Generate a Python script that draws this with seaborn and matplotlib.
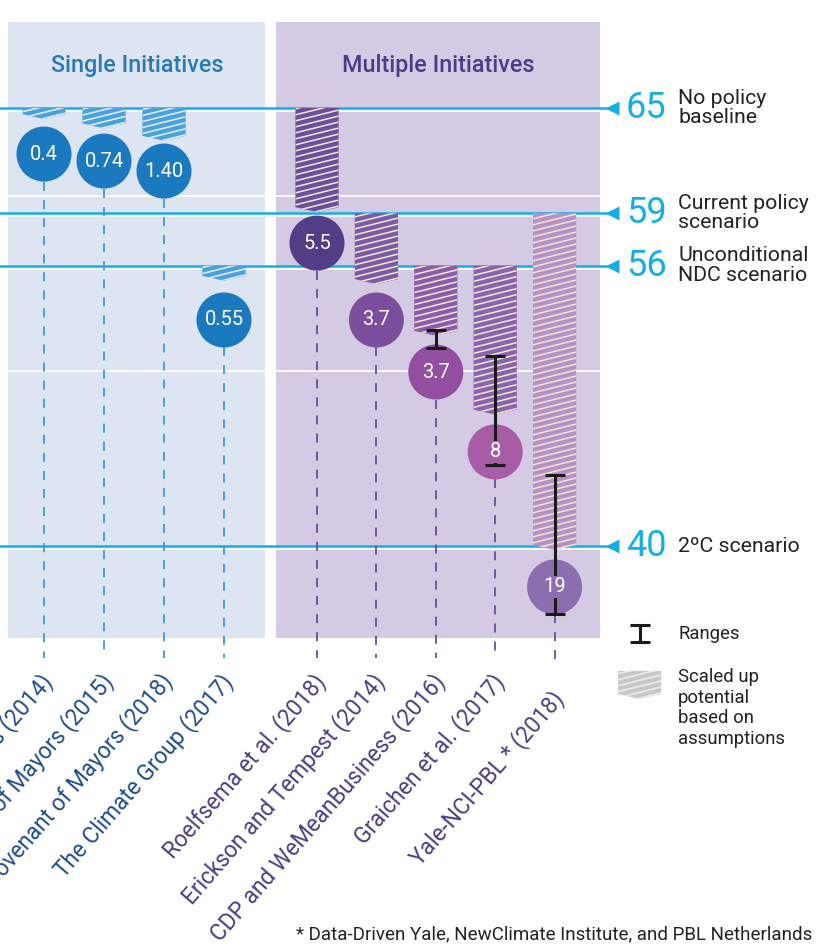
import numpy as np
import pandas as pd
import matplotlib
matplotlib.use("Agg")
import matplotlib.pyplot as plt
import matplotlib.patheffects as pe
import seaborn as sns

# ---------------- data ----------------
studies = ["Covenant of Mayors (2014)", "Compact of Mayors (2015)",
           "Global Covenant of Mayors (2018)", "The Climate Group (2017)",
           "Roelfsema et al. (2018)", "Erickson and Tempest (2014)",
           "CDP and WeMeanBusiness (2016)", "Graichen et al. (2017)",
           "Yale-NCI-PBL * (2018)"]
groups = ["Single"] * 4 + ["Multiple"] * 5
bar_top = [65, 65, 65, 56, 65, 59, 56, 56, 59]
bar_bottom = [64.37, 63.84, 63.13, 55.14, 59.06, 54.95, 52.0, 47.5, 39.77]
circle_y = [62.37, 61.97, 61.40, 52.90, 57.29, 52.90, 49.93, 45.37, 37.66]
circle_labels = ["0.4", "0.74", "1.40", "0.55", "5.5", "3.7", "3.7", "8", "19"]
range_low = [np.nan, np.nan, np.nan, np.nan, np.nan, np.nan, 51.30, 44.62, 36.12]
range_high = [np.nan, np.nan, np.nan, np.nan, np.nan, np.nan, 52.33, 50.84, 44.05]
ref_values = [65, 59, 56, 40]
ref_labels = ["No policy\nbaseline", "Current policy\nscenario",
              "Unconditional\nNDC scenario", "2ºC scenario"]
grid_values = [50, 60]
panel_titles = ["Single Initiatives", "Multiple Initiatives"]
footnote = "* Data-Driven Yale, NewClimate Institute, and PBL Netherlands"
legend_labels = ["Ranges", "Scaled up\npotential\nbased on\nassumptions"]

# ---------------- style ----------------
sns.set_theme(style="white")
plt.rcParams["font.family"] = ["Roboto", "DejaVu Sans"]

circle_colors = ["#1b79bf", "#1b79bf", "#1b79bf", "#1b79bf",
                 "#533d86", "#7b4f9e", "#934f9f", "#a85ca6", "#8c6db0"]
bar_colors = ["#4aa2dc", "#4aa2dc", "#4aa2dc", "#4aa2dc",
              "#6c4e9e", "#7d5aa6", "#8a5ca9", "#8b62ad", "#b890c8"]
stripe_colors = ["#e8f0f8"] * 4 + ["#f0ead0"] * 5
dash_colors = ["#3e9ad6"] * 4 + ["#6b4c9e"] * 5
label_colors = ["#1f4d8c"] * 4 + ["#4b3d85"] * 5
cyan = "#14aee6"

# layout (pixel-derived scale: 60 px per category, 17.52 px per Gt)
W, H = 824, 947
PX_X, PX_Y = 60.0, 17.52
x0_px, y65_px = 44.0, 108.0
xmin = -x0_px / PX_X
xmax = (W - x0_px) / PX_X
ymax = 65 + y65_px / PX_Y
ymin = 65 - (H - y65_px) / PX_Y

xpos = np.array([0, 1, 2, 3] + [4.55 + 0.99 * j for j in range(5)])

fig = plt.figure(figsize=(W / 100, H / 100), dpi=100)
ax = fig.add_axes([0, 0, 1, 1])
ax.set_xlim(xmin, xmax)
ax.set_ylim(ymin, ymax)
ax.axis("off")

# panels
panel_bottom, panel_top = 34.75, 69.9
ax.fill_between([-0.6, 3.683], panel_bottom, panel_top, color="#dee5f2", lw=0, zorder=0)
ax.fill_between([3.867, 9.267], panel_bottom, panel_top, color="#d5cae3", lw=0, zorder=0)
for g in grid_values:
    ax.plot([-0.6, 3.683], [g, g], color="white", lw=1.3, zorder=1)
    ax.plot([3.867, 9.267], [g, g], color="white", lw=1.3, zorder=1)

ax.text(1.55, 67.42, panel_titles[0], ha="center", va="center", fontsize=16.8,
        color="#2a78b8", fontweight="medium")
ax.text(6.567, 67.42, panel_titles[1], ha="center", va="center", fontsize=16.8,
        color="#4a3c86", fontweight="medium")

# reference lines
tri_x = 9.467
for v, lab in zip(ref_values, ref_labels):
    ax.plot([xmin, tri_x], [v, v], color=cyan, lw=1.8, zorder=2,
            path_effects=[pe.SimpleLineShadow(offset=(0, -1.6), shadow_color="white",
                                              alpha=1.0, rho=1), pe.Normal()])
    ax.plot([tri_x], [v], marker="<", ms=10, color=cyan, mec="none", zorder=2)
    ax.text(9.70, v, str(v), ha="left", va="center", fontsize=26, color=cyan)
    ax.text(10.567, v, lab, ha="left", va="center", fontsize=15.3,
            color="#222222", linespacing=1.05)

# hatched bars with chevron bottom
hw, chev = 0.36, 0.28
slope = 0.25 * PX_X / PX_Y
spacing = 6.0 / PX_Y


def hatched_bar(xc, top, bot, fc, sc):
    patch = ax.fill([xc - hw, xc + hw, xc + hw, xc, xc - hw],
                    [top, top, bot + chev, bot, bot + chev],
                    color=fc, lw=0, zorder=3)[0]
    offs = np.arange(bot - slope * 2 * hw - spacing, top + spacing, spacing)
    for o in offs:
        ln, = ax.plot([xc - hw, xc + hw], [o, o + slope * 2 * hw], color=sc,
                      lw=1.1, zorder=4, solid_capstyle="butt")
        ln.set_clip_path(patch)


for xc, t, b, fc, sc in zip(xpos, bar_top, bar_bottom, bar_colors, stripe_colors):
    hatched_bar(xc, t, b, fc, sc)

# dashed connectors
r_data = 27.5 / PX_Y
for i, (xc, cy) in enumerate(zip(xpos, circle_y)):
    end = 33.62 if i < 8 else 33.5
    ax.plot([xc, xc], [cy - r_data, end], color=dash_colors[i], lw=1.3,
            dashes=(5, 5), zorder=2)

# circles
df = pd.DataFrame({"x": xpos, "y": circle_y, "study": studies})
sns.scatterplot(data=df, x="x", y="y", hue="study",
                palette=dict(zip(studies, circle_colors)), s=1570,
                linewidth=0, legend=False, zorder=5, ax=ax)
ax.set_xlim(xmin, xmax)
ax.set_ylim(ymin, ymax)
ax.axis("off")

# ranges
rl = np.array(range_low)
rh = np.array(range_high)
m = ~np.isnan(rl)
ax.errorbar(xpos[m], (rl[m] + rh[m]) / 2, yerr=(rh[m] - rl[m]) / 2, fmt="none",
            ecolor="#1a1a1a", elinewidth=2.2, capsize=7.5, capthick=2.2, zorder=6)

for xc, cy, lab, col in zip(xpos, circle_y, circle_labels, circle_colors):
    ax.text(xc, cy, lab, ha="center", va="center", fontsize=14.5, color="white",
            zorder=7, bbox=dict(boxstyle="square,pad=0.08", fc=col, ec="none"))

# category labels
for i, (xc, name) in enumerate(zip(xpos, studies)):
    yy = 32.5 if i < 8 else 31.5
    ax.text(xc + 0.08, yy, name, rotation=49, rotation_mode="anchor", ha="right",
            va="center", fontsize=16.3, color=label_colors[i])

# legend
ax.errorbar([9.93], [35.0], yerr=[0.48], fmt="none", ecolor="#1a1a1a",
            elinewidth=2.2, capsize=7.5, capthick=2.2)
ax.text(10.567, 35.0, legend_labels[0], ha="left", va="center", fontsize=13.3,
        color="#222222")
lx, ltop, lbot = 9.925, 32.87, 31.27
patch = ax.fill([lx - hw, lx + hw, lx + hw, lx, lx - hw],
                [ltop, ltop, lbot + chev, lbot, lbot + chev],
                color="#c8c8c8", lw=0, zorder=3)[0]
for o in np.arange(lbot - slope * 2 * hw - spacing, ltop + spacing, spacing):
    ln, = ax.plot([lx - hw, lx + hw], [o, o + slope * 2 * hw], color="#eeeeee",
                  lw=1.1, zorder=4)
    ln.set_clip_path(patch)
ax.text(10.567, 33.05, legend_labels[1], ha="left", va="top", fontsize=13.3,
        color="#222222", linespacing=1.2)

ax.text(12.8, 17.85, footnote, ha="right", va="center", fontsize=13.5,
        color="#222222")

fig.savefig("out.png", dpi=100)
